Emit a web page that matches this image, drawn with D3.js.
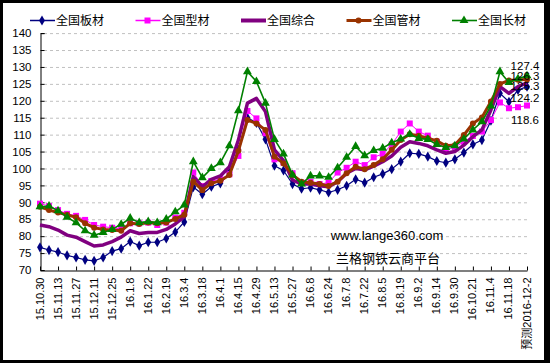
<!DOCTYPE html>
<html>
<head>
<meta charset="utf-8">
<script src="https://cdn.jsdelivr.net/npm/d3@7"></script>
<style>
  body { margin: 0; background: #000; }
  svg { display: block; }
  text { font-family: "Liberation Sans", Arial, sans-serif; fill: #000; }
  .cjk { font-family: "Noto Sans CJK SC", sans-serif; }
</style>
</head>
<body>
<div class="js-board"></div>
<script>
var categories = ['15.10.30','15.11.6','15.11.13','15.11.20','15.11.27','15.12.4','15.12.11','15.12.18',
  '15.12.25','16.1.1','16.1.8','16.1.15','16.1.22','16.1.29','16.2.19','16.2.26','16.3.4','16.3.11',
  '16.3.18','16.3.25','16.4.1','16.4.8','16.4.15','16.4.22','16.4.29','16.5.6','16.5.13','16.5.20',
  '16.5.27','16.6.3','16.6.8','16.6.17','16.6.24','16.7.1','16.7.8','16.7.15','16.7.22','16.7.29',
  '16.8.5','16.8.12','16.8.19','16.8.26','16.9.2','16.9.9','16.9.14','16.9.23','16.9.30','16.10.14',
  '16.10.21','16.10.28','16.11.4','16.11.11','16.11.18','16.11.25','预测2016-12-2'];

// 全国板材
var bancai = [76.7,75.9,75.3,74.3,73.7,73.0,72.7,73.7,75.6,76.3,78.4,77.2,78.2,78.2,79.3,81.2,84.2,94.5,
  92.4,94.6,95.6,98.8,105.5,115.0,113.5,108.6,100.8,99.4,95.4,94.0,94.3,93.7,92.9,93.7,94.9,96.8,95.8,
  97.4,98.4,99.8,102.0,104.5,104.3,103.5,102.2,101.7,102.7,104.7,107.1,108.4,114.1,122.2,119.7,123.2,124.2];
// 全国型材
var xingcai = [89.6,88.9,87.7,86.6,86.0,84.8,83.3,82.8,82.5,82.1,83.8,83.8,84.0,83.3,84.0,85.5,86.9,98.8,
  94.8,96.3,96.8,98.3,103.7,117.0,114.8,110.4,102.7,101.7,98.6,95.8,96.1,95.4,95.8,98.8,100.2,102.0,101.0,
  103.3,104.3,107.1,110.9,113.3,110.9,109.7,107.9,105.7,106.3,107.9,109.6,110.9,114.3,119.5,117.8,118.1,118.6];
// 全国综合
var zonghe = [83.3,82.8,81.8,80.3,79.7,78.4,77.1,77.4,78.4,79.7,81.6,80.8,81.1,81.1,82.0,83.6,85.8,97.6,
  94.6,96.8,97.8,100.5,108.4,119.3,120.7,116.8,105.5,102.3,96.6,95.4,95.4,94.9,94.6,96.1,98.6,100.0,99.6,
  100.7,102.0,103.7,106.3,107.9,107.4,106.7,105.5,104.5,105.0,106.9,109.4,111.4,117.3,124.2,122.2,124.2,125.3];
// 全国管材
var guancai = [88.7,87.7,87.0,86.3,85.6,83.8,82.5,82.0,81.8,81.6,83.8,83.6,84.0,83.8,84.0,85.1,86.3,96.1,
  93.6,95.6,96.4,98.1,105.2,114.3,113.3,111.4,103.5,101.5,98.1,96.1,95.8,95.4,94.8,96.1,98.6,100.5,99.8,
  101.0,102.7,105.5,108.4,110.1,109.7,108.9,108.2,106.7,106.9,109.9,113.3,115.1,119.8,125.0,126.0,126.2,126.3];
// 全国长材
var changcai = [88.7,88.9,87.5,85.6,84.0,81.6,80.3,81.1,82.0,83.5,85.3,84.0,84.3,84.0,85.0,87.2,89.2,102.0,
  97.3,100.0,101.7,106.7,117.1,128.6,125.7,119.3,108.6,104.3,98.1,95.4,97.8,97.8,97.4,100.2,103.3,106.5,103.8,
  105.3,106.0,107.6,108.7,110.1,108.9,108.6,107.1,106.2,106.7,108.7,111.4,113.8,118.5,128.6,125.4,126.5,127.4];

var yTicks = [70,75,80,85,90,95,100,105,110,115,120,125,130,135,140];

var series = [
  {name: '全国板材', values: bancai, color: '#000080', width: 1.2, marker: d3.symbolDiamond, size: 30, labelDy: 15.5},
  {name: '全国型材', values: xingcai, color: '#FF00FF', width: 1, marker: d3.symbolSquare, size: 36, labelDy: 18.5},
  {name: '全国综合', values: zonghe, color: '#800080', width: 3.5, marker: null, labelDy: 7},
  {name: '全国管材', values: guancai, color: '#993300', width: 3, marker: d3.symbolCircle, size: 28, labelDy: 0.5},
  {name: '全国长材', values: changcai, color: '#008000', width: 1.6, marker: d3.symbolTriangle, size: 34, labelDy: -6}
];

var svg = d3.select('.js-board')
  .append('svg')
  .attr('width', 550)
  .attr('height', 363);

svg.append('rect')
  .attr('x', 3).attr('y', 3)
  .attr('width', 541).attr('height', 357)
  .attr('fill', '#fff');

var x = d3.scalePoint().domain(categories).range([40, 527]);
var y = d3.scaleLinear().domain([70, 140]).range([270, 33.1]);

// gridlines
svg.append('g')
  .selectAll('line')
  .data(yTicks.slice(1))
  .enter()
  .append('line')
  .attr('x1', 44).attr('x2', 527)
  .attr('y1', function(d) { return y(d) + 0.5; })
  .attr('y2', function(d) { return y(d) + 0.5; })
  .attr('stroke', '#c0c0c0')
  .attr('stroke-dasharray', '3,3');

// y axis
var yAxis = svg.append('g')
  .attr('transform', 'translate(40.5,0)')
  .call(d3.axisLeft(y).tickValues(yTicks).tickSize(-4).tickPadding(9).tickFormat(d3.format('d')));
yAxis.select('.domain').attr('stroke', '#000');
yAxis.selectAll('.tick line').attr('stroke', '#000');
yAxis.selectAll('text').style('font-size', '11.5px').attr('fill', '#000');

// x axis
var xAxis = svg.append('g')
  .attr('transform', 'translate(0,270.5)')
  .call(d3.axisBottom(x)
    .tickValues(categories.filter(function(d, i) { return i % 2 === 0; }))
    .tickSize(-4).tickSizeOuter(0));
xAxis.select('.domain').attr('stroke', '#000').attr('stroke-width', 1.2);
xAxis.selectAll('.tick line').attr('stroke', '#000');
xAxis.selectAll('text')
  .attr('y', 0).attr('dy', 0)
  .attr('transform', 'translate(3,7) rotate(-90)')
  .style('text-anchor', 'end')
  .style('font-size', '11px')
  .attr('class', 'cjk-mix')
  .style('font-family', '"Liberation Sans", "Noto Sans CJK SC", sans-serif')
  .attr('fill', '#000');

// lines and markers
var line = d3.line()
  .x(function(d, i) { return x(categories[i]); })
  .y(function(d) { return y(d); });

var groups = svg.selectAll('.series')
  .data(series)
  .enter()
  .append('g')
  .classed('series', true);

groups.append('path')
  .attr('d', function(d) { return line(d.values); })
  .attr('fill', 'none')
  .attr('stroke', function(d) { return d.color; })
  .attr('stroke-width', function(d) { return d.width; })
  .attr('stroke-linejoin', 'round');

groups.filter(function(d) { return d.marker; })
  .selectAll('.marker')
  .data(function(d) { return d.values.map(function(v, i) { return {v: v, i: i, s: d}; }); })
  .enter()
  .append('path')
  .classed('marker', true)
  .attr('transform', function(d) { return 'translate(' + x(categories[d.i]) + ',' + y(d.v) + ')'; })
  .attr('d', function(d) { return d3.symbol().type(d.s.marker).size(d.s.size)(); })
  .attr('fill', function(d) { return d.s.color; });

// last-point value labels
var last = categories.length - 1;
svg.append('g')
  .selectAll('text')
  .data(series)
  .enter()
  .append('text')
  .attr('x', x(categories[last]) - 2)
  .attr('y', function(d) { return y(d.values[last]) + d.labelDy; })
  .attr('text-anchor', 'middle')
  .style('font-size', '11.5px')
  .text(function(d) { return d.values[last].toFixed(1); });

// legend
var legend = svg.selectAll('.legend')
  .data(series)
  .enter()
  .append('g')
  .classed('legend', true)
  .attr('transform', function(d, i) { return 'translate(' + (30 + i * 105.5) + ',20.5)'; });

legend.append('line')
  .attr('x1', 0).attr('x2', 25)
  .attr('stroke', function(d) { return d.color; })
  .attr('stroke-width', function(d) { return d.marker ? Math.max(d.width, 1.5) : 4; });

legend.filter(function(d) { return d.marker; })
  .append('path')
  .attr('transform', 'translate(12,0)')
  .attr('d', function(d) { return d3.symbol().type(d.marker).size(d.size)(); })
  .attr('fill', function(d) { return d.color; });

legend.append('text')
  .attr('class', 'cjk')
  .attr('x', 26)
  .attr('dy', '0.35em')
  .style('font-size', '12px')
  .text(function(d) { return d.name; });

// watermark
svg.append('text')
  .attr('x', 387).attr('y', 239.5)
  .attr('text-anchor', 'middle')
  .style('font-size', '13px')
  .attr('fill', '#000')
  .text('www.lange360.com');

svg.append('text')
  .attr('class', 'cjk')
  .attr('x', 388).attr('y', 262.5)
  .attr('text-anchor', 'middle')
  .style('font-size', '13px')
  .text('兰格钢铁云商平台');
</script>
</body>
</html>
